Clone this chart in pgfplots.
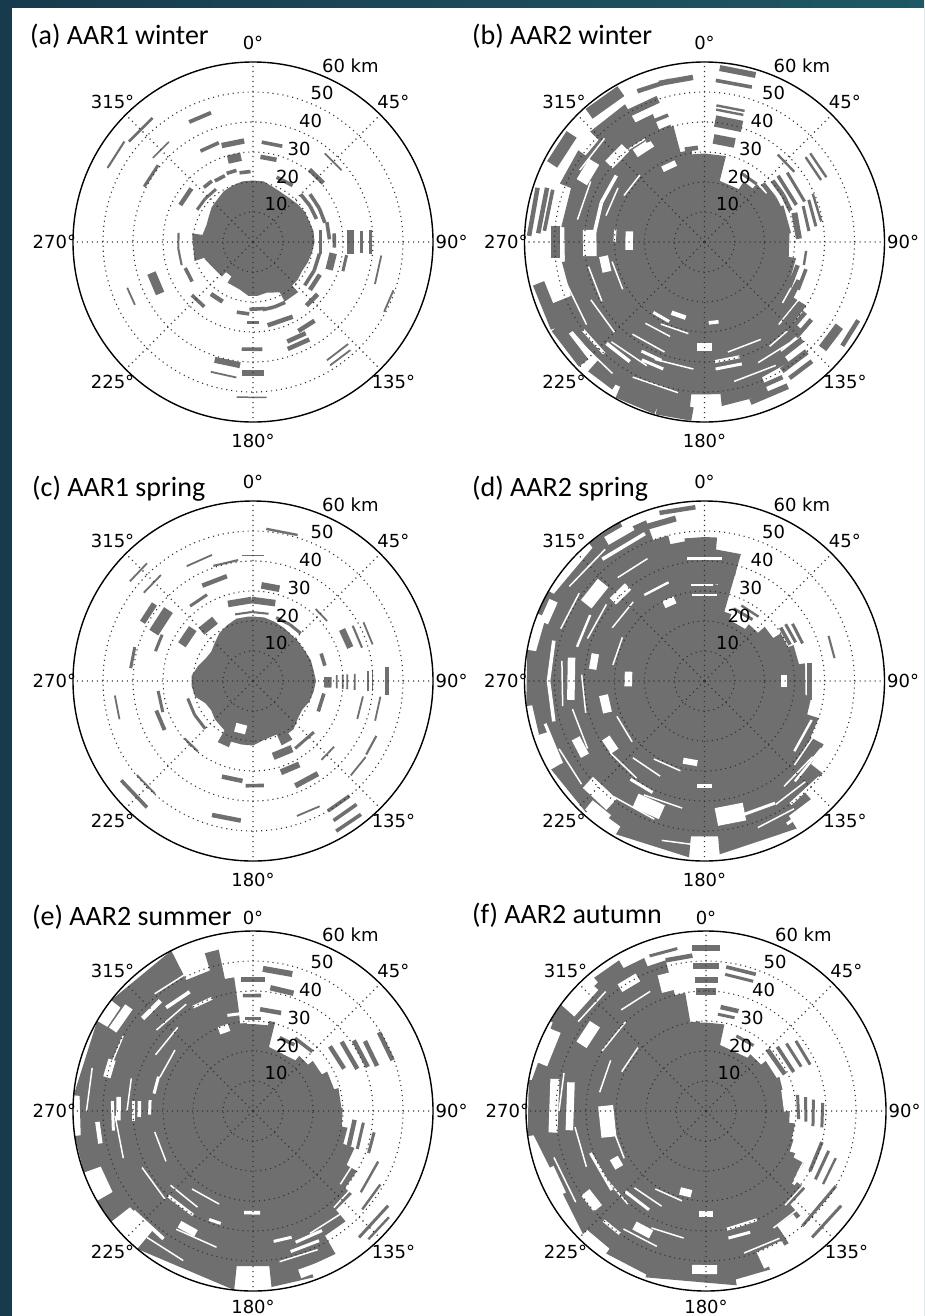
\documentclass[border=0pt]{standalone}
\usepackage{pgfplots}
\pgfplotsset{compat=1.18}
\usepgfplotslibrary{polar}
\usepackage{fontspec}
\setmainfont{DejaVu Sans}
\newfontfamily\titlefont{Carlito}
\definecolor{barcol}{HTML}{6F6F6F}
\definecolor{bgA}{HTML}{173B4C}
\definecolor{bgB}{HTML}{1E5864}
\tikzset{
  alab/.style={font=\fontsize{18}{18}\selectfont, inner sep=0pt, anchor=center},
  rlab/.style={font=\fontsize{18}{18}\selectfont, inner sep=0pt, anchor=south west, yshift=3pt},
  ttl/.style={font=\titlefont\fontsize{28}{30}\selectfont, inner sep=0pt, anchor=base west},
}
\pgfplotsset{
  rose/.style={
    scale only axis, width=360pt, height=360pt,
    xmin=0, xmax=360, ymin=0, ymax=60,
    xtick={0,45,...,315}, ytick={10,20,30,40,50},
    xticklabel={\phantom{0}}, yticklabel={\phantom{0}},
    extra y ticks={60},
    extra y tick style={major grid style={solid, black, line width=1.4pt}, yticklabel={\phantom{0}}},
    grid=major,
    major grid style={black!80, line width=1.1pt, dash pattern=on 1.1pt off 3.9pt},
    axis line style={draw=none},
    major tick length=0pt,
    axis on top,
    clip mode=individual,
    point meta min=0, point meta max=10,
    anchor=center,
  },
  core/.style={fill=barcol, draw=none, forget plot},
  grayarcs/.style={forget plot, draw=barcol, point meta=\thisrow{w},
    quiver={u=-\thisrow{d}, v=0,
      every arrow/.append style={draw=barcol, line width=0.03pt*\pgfplotspointmetatransformed}}},
  whitearcs/.style={forget plot, draw=white, point meta=\thisrow{w},
    quiver={u=-\thisrow{d}, v=0,
      every arrow/.append style={draw=white, line width=0.03pt*\pgfplotspointmetatransformed}}},
  origin/.style={forget plot, only marks, mark=*, mark size=1.2pt, black},
}
% #1: radius of the 0 deg label, #2: radius of the 180 deg label
\newcommand{\roselabels}[2]{%
  \node[alab] at (axis cs:90,#1) {0°};
  \node[alab] at (axis cs:45,66.2) {45°};
  \node[alab] at (axis cs:0,66.2) {90°};
  \node[alab] at (axis cs:-45,66.2) {135°};
  \node[alab] at (axis cs:-90,#2) {180°};
  \node[alab] at (axis cs:225,66.2) {225°};
  \node[alab] at (axis cs:180,66.2) {270°};
  \node[alab] at (axis cs:135,66.2) {315°};
  \node[rlab] at (axis cs:67.5,10) {10};
  \node[rlab] at (axis cs:67.5,20) {20};
  \node[rlab] at (axis cs:67.5,30) {30};
  \node[rlab] at (axis cs:67.5,40) {40};
  \node[rlab] at (axis cs:67.5,50) {50};
  \node[rlab] at (axis cs:67.5,60) {60 km};
}
\begin{document}
\begin{tikzpicture}
\useasboundingbox (0,0) rectangle (924pt,-1316pt);
\shade[left color=bgA, right color=bgB] (0,0) rectangle (924pt,-1316pt);
\fill[white] (12pt,-8pt) rectangle (924pt,-1316pt);

% ---------------- (a) AAR1 winter
\begin{polaraxis}[rose, at={(253pt,-242pt)}]
\addplot[core] table[x expr=90-\thisrow{b}, y=r] {
b r
0 20.5
10 20.5
20 19.5
30 19
40 19
50 19.5
60 20
70 20
80 20.5
90 20.5
100 20
110 19.5
120 19
130 19.5
138 19.5
138 22.5
152 22.5
152 19
165 17.5
175 18
185 18
195 16.5
205 16
212 16
212 13.5
222 13.5
222 15.5
240 16
250 17
252 17
252 20.5
278 20.5
278 17
290 16.5
300 17
310 18
320 18.5
330 19.5
340 20
350 20.5
};
\addplot[grayarcs] table[x expr=90-\thisrow{b}, y=r] {
b d r w
332 10 45.3 1.3
309 12 53.2 0.9
297 11 54.4 0.7
310 10 43.6 0.5
297 12 40.7 1.0
330 11 35.0 1.2
342 13 33.8 1.8
343 9 28.7 2.8
297 14 27.2 1.5
318 8 24.5 1.2
328 9 24.0 1.2
339 8 24.5 1.2
349 9 23.5 1.2
300 12 21.5 1.0
312 13 21.5 1.0
252 13 25.0 0.7
265 12 25.0 0.7
237 12 24.2 1.2
5 12 33.4 1.2
5 11 28.5 1.5
20 15 23.0 1.2
38 12 30.6 1.5
39 12 38.0 0.6
45 13 22.5 1.2
58 12 22.5 1.2
50 13 24.8 1.2
63 12 24.8 1.2
75 13 25.5 1.2
80 20 23.0 1.0
84 10 27.2 1.2
83 14 32.8 2.2
84 12 36.3 1.0
84 12 39.4 1.0
98 12 27.0 2.5
98 10 31.5 1.0
96 13 43.0 0.6
109 9 49.5 0.6
100 15 22.5 1.2
115 15 22.5 1.2
116 14 24.8 1.5
129 11 27.7 1.5
152 10 22.8 1.2
162 10 22.8 1.2
170 13 22.5 1.2
152 18 28.2 1.5
142 11 33.3 1.5
150 11 35.1 1.5
150 12 37.5 1.5
137 11 46.5 0.6
138 10 48.5 0.6
175 11 35.9 1.2
175 10 43.9 2.0
175 11 52.0 0.5
176 8 27.0 1.0
186 12 41.3 2.0
187 11 45.5 0.6
183 10 24.0 1.2
207 12 22.3 1.5
217 12 27.0 1.2
241 12 35.4 3.0
242 8 44.6 0.6
};
\addplot[origin] coordinates {(0,0)};
\roselabels{66.2}{66.2}
\end{polaraxis}
\node[ttl] at (30pt,-45pt) {(a) AAR1 winter};

% ---------------- (b) AAR2 winter
\begin{polaraxis}[rose, at={(704.5pt,-242pt)}]
\addplot[core] table[x expr=90-\thisrow{b}, y=r] {
b r
0 29.5
14 29.5
14 21
33 21
33 24
42 24
42 26
52 26
52 28
65 28
65 29
84 29
84 28.5
100 28.5
100 31
112 31
112 35
122 35
122 40
132 40
132 44
145 44
145 49
157 49
157 55
174 55
174 51
185 51
185 58
198 58
198 56
212 56
212 58
222 58
222 53
236 53
236 58
248 58
248 48
262 48
262 47
276 47
276 48
292 48
292 52
306 52
306 49
314 49
314 53
330 53
330 46
338 46
338 40
345 40
345 31
352 31
352 29.5
};
\addplot[whitearcs] table[x expr=90-\thisrow{b}, y=r] {
b d r w
309 11 41 3.5
322 10 37.5 3
296 10 45.5 4
275 16 36.8 1.2
291 16 36.8 1.2
263 13 38.5 4.5
264 14 25.3 2.5
253 9 34 3
270 8 30 0.8
222 12 50 1.0
212 12 47 1.2
204 12 29 1.0
200 10 42 1.0
198 10 44.5 1.0
194 11 26 1.5
176 8 35 2.8
170 7 27 1.2
163 12 40 1.0
163 12 42.5 1.0
330 10 28 2
190 18 31 0.5
240 18 31.5 0.5
300 16 31 0.5
200 16 33.5 0.5
285 17 34 0.5
200 18 39 0.5
240 18 39.5 0.5
320 16 40 0.5
185 18 42.5 0.5
225 18 42.5 0.5
280 18 43 0.5
205 18 45.5 0.5
300 16 48 0.5
235 18 48 0.5
190 18 51 0.5
268 18 51.5 0.5
215 18 53.5 0.5
110 18 33 0.5
120 18 37 0.5
150 18 37.5 0.5
130 18 41 0.5
140 16 44 0.5
150 18 47.5 0.5
};
\addplot[grayarcs] table[x expr=90-\thisrow{b}, y=r] {
b d r w
5 12 34.5 3.2
5 13 40.5 3.8
5 12 44.3 0.8
5 12 45.7 0.8
4 13 54 1.2
5 12 58.2 2.0
344 12 55 1.8
348 8 31.5 1.5
330 14 39.5 2.5
332 12 44 1.2
328 14 50 2.5
336 12 55 1.5
318 13 57.5 4.0
297 12 57 4.0
272 16 58.5 1.5
273 16 55.5 1.5
274 15 53.5 1.2
264 12 50 3
240 16 57 4
225 15 57 4
196 14 57.5 4.5
184 12 57.5 4.5
150 12 52 1.5
150 14 55.5 2.0
135 14 46 2
137 12 50 2
138 10 53.5 1.5
122 10 53 3
117 10 57.5 1.5
123 12 38 2
125 12 41 1.5
126 10 44 1.5
104 14 32 1.5
105 12 35 1.2
95 8 34 0.8
72 16 31.5 2.0
70 14 35 1.0
68 14 37.5 1.0
66 14 39.5 0.8
45 13 27.5 1.5
58 12 27.5 1.5
48 11 30.5 1.5
59 11 30.5 1.5
48 20 33 1.2
50 18 36 1.0
40 12 38 0.8
50 12 44 0.8
50 12 46 0.8
28 14 26 1.0
};
\addplot[origin] coordinates {(0,0)};
\roselabels{66.2}{66.2}
\end{polaraxis}
\node[ttl] at (472pt,-45pt) {(b) AAR2 winter};

% ---------------- (c) AAR1 spring
\begin{polaraxis}[rose, at={(253pt,-681pt)}]
\addplot[core] table[x expr=90-\thisrow{b}, y=r] {
b r
0 21.5
10 21.5
20 21
30 20.5
40 20
50 20
60 20
70 20.5
80 20.5
90 21
100 20.5
110 20
120 19
130 19.5
140 21
146 21
146 23.5
156 23.5
156 19.5
170 20
180 21.5
190 21.5
200 21.5
200 23.5
210 23.5
210 19
225 18
235 17
245 17.5
255 20
265 20.5
275 20.5
285 19
295 17.5
305 17
315 18
325 19.5
335 20.5
345 21.5
355 21.5
};
\addplot[whitearcs] table[x expr=90-\thisrow{b}, y=r] {
b d r w
188 13 16.5 3.0
};
\addplot[grayarcs] table[x expr=90-\thisrow{b}, y=r] {
b d r w
355 10 42.0 0.6
5 12 50.9 0.8
341 12 40.6 0.7
330 12 44.2 0.6
309 9 52.8 0.6
309 10 46.8 0.6
320 12 32.6 1.0
332 14 36.0 1.5
5 11 32.0 2.2
342 17 27.0 2.2
359 17 27.0 2.2
345 14 23.0 0.7
359 14 23.0 0.7
297 14 26.6 3.0
314 14 23.9 3.0
298 10 41.7 2.0
296 14 36.8 3.5
287 10 34.0 1.0
276 10 41.0 1.0
254 10 46.3 0.6
251 13 31.8 1.0
241 12 33.7 1.3
218 12 29.8 0.7
221 10 49.8 0.6
220 13 55.0 1.2
225 15 22.5 1.0
240 15 22.5 1.0
185 12 46.7 1.5
186 12 33.5 1.5
174 10 35.0 1.2
151 12 31.8 2.0
145 13 37.7 1.8
150 15 26.0 2.5
130 18 26.5 1.0
129 10 34.8 0.6
124 10 45.3 0.6
152 10 47.3 0.6
140 10 50.0 1.2
140 10 53.7 1.2
141 10 57.2 1.2
114 9 45.0 0.7
87 8 25.0 2.5
86 9 28.0 0.6
86 9 30.0 0.6
86 9 31.5 0.6
86 9 34.0 0.6
85 10 38.5 0.6
85 10 40.0 0.6
84 12 45.0 1.3
60 11 34.3 2.2
61 12 38.0 0.7
62 11 41.7 0.6
68 10 24.5 1.2
100 15 24.0 1.2
97 11 42.8 0.6
98 12 37.0 0.6
41 10 31.8 0.6
20 13 22.5 1.0
33 12 22.5 1.0
};
\addplot[origin] coordinates {(0,0)};
\roselabels{66.2}{66.2}
\end{polaraxis}
\node[ttl] at (32pt,-496pt) {(c) AAR1 spring};

% ---------------- (d) AAR2 spring
\begin{polaraxis}[rose, at={(704.5pt,-681pt)}]
\addplot[core] table[x expr=90-\thisrow{b}, y=r] {
b r
0 48
5 48
5 44
16 44
16 24
22 24
22 22
38 22
38 24
48 24
48 27
58 27
58 30
68 30
68 32
80 32
80 34
98 34
98 36
108 36
108 40
118 40
118 45
128 45
128 50
138 50
138 53
148 53
148 58
175 58
175 52
185 52
185 59
210 59
210 56
222 56
222 59
240 59
240 55
252 55
252 58
262 58
262 60
280 60
280 57
292 57
292 60
300 60
300 58
320 58
320 60
332 60
332 57
340 57
340 50
346 50
346 47
352 47
352 48
};
\addplot[whitearcs] table[x expr=90-\thisrow{b}, y=r] {
b d r w
352 16 41.3 0.8
352 16 32.4 0.8
352 16 29 0.8
86 8 26.5 2
163 12 45.5 6
176 8 35 1.5
185 10 27.5 2
150 20 47 1.0
198 12 46 5
205 12 41 1
217 12 51.5 5
215 8 56.5 4
232 8 38 3
238 8 47 3
252 10 34 3
276 8 37.5 2.5
266 11 25.5 2.5
262 18 45 2.5
240 15 55 1.0
255 15 52 1.2
270 15 52 1.2
290 8 57 3
303 11 47 4.5
311 10 40.5 3
325 10 57 3
332 8 28.8 2.5
325 15 35 0.8
320 18 53 1.2
285 15 44 0.8
110 18 38 0.8
120 18 45 0.8
130 15 50 1.0
140 10 55 1.0
195 18 31 0.5
230 18 31.5 0.5
280 18 31 0.5
205 18 35 0.5
300 18 35.5 0.5
215 18 39.5 0.5
255 18 41 0.5
290 18 41.5 0.5
190 18 43 0.5
240 18 45 0.5
320 15 45 0.5
200 18 49 0.5
260 18 48 0.5
290 15 51 0.5
230 15 53.5 0.5
305 18 55 0.5
180 15 55 0.5
115 18 41 0.5
125 18 44 0.5
135 15 47.5 0.5
145 15 52 0.5
};
\addplot[grayarcs] table[x expr=90-\thisrow{b}, y=r] {
b d r w
5 10 43 1.5
5 11 38 3
5 10 31 3
22 16 26 1.0
26 14 28 0.8
55 12 31 1.2
55 12 33 1.0
57 12 35 1.0
70 10 44 0.7
80 20 35.5 1.5
338 12 55 2
345 12 58 1.5
};
\addplot[origin] coordinates {(0,0)};
\roselabels{66.2}{66.2}
\end{polaraxis}
\node[ttl] at (472pt,-496pt) {(d) AAR2 spring};

% ---------------- (e) AAR2 summer
\begin{polaraxis}[rose, at={(253pt,-1111pt)}]
\addplot[core] table[x expr=90-\thisrow{b}, y=r] {
b r
0 29
10 29
10 30.5
14 30.5
14 22
40 22
40 24
50 24
50 26
62 26
62 28
75 28
75 29.5
88 29.5
88 30
100 30
100 32
110 32
110 36
120 36
120 40
130 40
130 43
140 43
140 48
150 48
150 55
160 55
160 59
174 59
174 52
186 52
186 60
220 60
220 52
232 52
232 60
240 60
240 54
250 54
250 60
262 60
262 58
275 58
275 60
300 60
300 56
308 56
308 60
333 60
333 49
343 49
343 55
348 55
348 45
352 45
352 30
356 30
356 29
};
\addplot[whitearcs] table[x expr=90-\thisrow{b}, y=r] {
b d r w
86 10 32.5 5
176 9 34 1.2
150 12 46 1.0
153 12 48.5 1.0
163 8 44 1.0
156 8 56.5 3
205 8 45 2.5
196 6 39 1.0
210 15 40 1.0
215 15 52 1.2
258 8 52 1.5
262 12 47 1.0
265 10 40 1.0
283 7 50 2.5
266 10 45 1.5
267 8 38 1.2
268 8 34.5 1.0
300 10 54 3
310 10 48 1.5
320 12 45 1.2
330 10 40 1.0
337 7 29 2.5
345 15 33 1.0
352 8 33 7
280 10 33.5 1.0
200 18 33 0.5
240 18 33.5 0.5
290 18 33 0.5
210 18 37 0.5
300 18 37.5 0.5
225 18 41.5 0.5
270 15 42 0.5
310 18 42 0.5
195 18 47 0.5
250 18 46 0.5
285 15 50 0.5
320 15 51 0.5
205 15 55 0.5
270 15 55.5 0.5
115 15 38 0.5
125 15 42 0.5
140 15 45 0.5
155 15 51 0.5
};
\addplot[grayarcs] table[x expr=90-\thisrow{b}, y=r] {
b d r w
355 10 44 1.5
355 9 38.6 1.2
355 10 31 1.2
4 12 47.5 2.0
8 11 41.5 1.8
4 12 34 1.5
20 12 26 1.2
30 15 28 1.2
50 15 33.5 1.5
52 16 37.5 1.5
55 14 41 1.5
58 12 44 1.5
58 12 49.5 1.5
95 15 34 1.5
96 14 37 1.0
100 10 41 1.0
112 15 45 0.8
120 12 49 0.8
125 15 55 1.0
128 10 57.5 0.8
};
\addplot[origin] coordinates {(0,0)};
\roselabels{64.2}{65.3}
\end{polaraxis}
\node[ttl] at (32pt,-925pt) {(e) AAR2 summer};

% ---------------- (f) AAR2 autumn
\begin{polaraxis}[rose, at={(706pt,-1111pt)}]
\addplot[core] table[x expr=90-\thisrow{b}, y=r] {
b r
0 29.5
12 29.5
12 22.5
38 22.5
38 24
50 24
50 26
65 26
65 27
88 27
88 28
98 28
98 30
108 30
108 33
118 33
118 37
128 37
128 42
138 42
138 47
148 47
148 52
158 52
158 57
170 57
170 59
200 59
200 58
215 58
215 56
225 56
225 58
262 58
262 60
280 60
280 59
300 59
300 60
310 60
310 56
320 56
320 58
330 58
330 55
338 55
338 52
345 52
345 40
350 40
350 30
356 30
356 29.5
};
\addplot[whitearcs] table[x expr=90-\thisrow{b}, y=r] {
b d r w
340 12 45 6
306 12 57 6
298 10 47 4
286 12 57.5 5
262 20 51.5 3
262 20 46 2.5
255 18 33.5 5
240 10 56 4
228 8 48.5 3.5
237 6 34.5 3
215 8 50 1.0
204 8 45 3
210 15 38 1.0
176 9 53 3
176 8 34.3 2
190 8 28 2.5
176 10 59 1.0
150 10 53 6
140 8 47 4
155 15 40 1.0
160 10 43 1.0
100 15 34 6
75 15 27.5 3
120 10 38 1.0
230 20 41 1.0
325 8 50 3
195 18 31 0.5
240 18 31.5 0.5
295 18 31 0.5
205 18 35 0.5
280 18 36 0.5
220 18 40.5 0.5
300 18 40 0.5
190 15 43 0.5
245 18 44 0.5
320 15 44 0.5
200 15 48 0.5
270 15 49 0.5
235 18 53 0.5
305 15 52 0.5
110 15 37 0.5
125 15 41 0.5
135 15 45 0.5
150 15 49 0.5
};
\addplot[grayarcs] table[x expr=90-\thisrow{b}, y=r] {
b d r w
355 10 54.5 2.2
355 10 48.5 2.0
355 10 44 2.0
355 10 40 2.5
8 12 46 1.0
8 12 48.5 1.2
8 10 35 1.5
7 10 32.5 1.0
345 10 52 1.5
340 10 55 1.0
22 14 27 1.0
45 20 29 1.5
48 18 32 1.2
50 15 35 1.0
52 14 38 1.0
80 15 31 1.0
82 14 33.5 1.0
84 14 36 1.0
86 12 39 1.0
105 15 40 1.2
108 14 43 1.0
110 12 46 0.8
120 20 50 1.0
125 15 55 1.0
};
\addplot[origin] coordinates {(0,0)};
\roselabels{64.2}{65.3}
\end{polaraxis}
\node[ttl] at (472pt,-923pt) {(f) AAR2 autumn};
\end{tikzpicture}
\end{document}
